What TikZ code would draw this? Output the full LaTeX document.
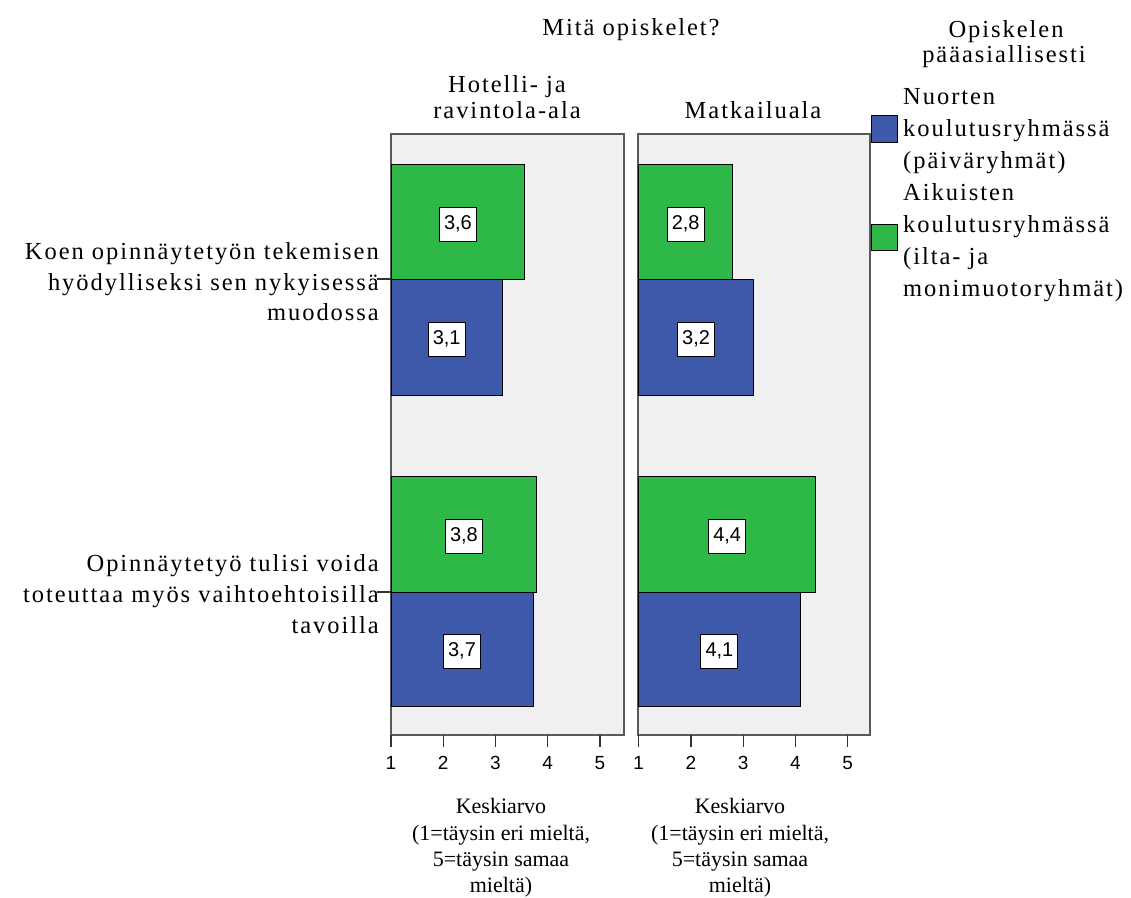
\documentclass[tikz,border=0pt]{standalone}
\usepackage{fontspec}
\setmainfont{Liberation Serif}
\newfontfamily\lblfont{Liberation Serif}[LetterSpace=8]
\newfontfamily\numfont{Liberation Sans}
\definecolor{bargreen}{RGB}{46,184,72}
\definecolor{barblue}{RGB}{62,88,170}
\definecolor{panelbg}{RGB}{240,240,240}
\begin{document}
\begin{tikzpicture}[x=1pt,y=-1pt,
  lbl/.style={font=\lblfont\fontsize{24.5}{24.5}\selectfont, inner sep=0pt},
  axt/.style={font=\fontsize{22}{22}\selectfont, inner sep=0pt, anchor=base},
  val/.style={draw=black, fill=white, line width=1pt, font=\numfont\fontsize{20}{20}\selectfont, minimum width=37pt, minimum height=34pt, inner sep=0pt},
  ticklbl/.style={font=\numfont\fontsize{19}{19}\selectfont, inner sep=0pt},
  panel/.style={draw=black!65, line width=1.6pt, fill=panelbg},
  gbar/.style={draw=black, line width=1pt, fill=bargreen},
  bbar/.style={draw=black, line width=1pt, fill=barblue},
  tickmark/.style={draw=black!80, line width=1.4pt}]
\useasboundingbox (0,0) rectangle (1131,897);
\fill[white] (0,0) rectangle (1131,897);

% panels
\draw[panel] (391,134) rectangle (624,735);
\draw[panel] (638,134) rectangle (870,735);

% bars panel 1
\draw[gbar] (391,164) rectangle (524.8,279);
\draw[bbar] (391,279) rectangle (502.3,395);
\draw[gbar] (391,476) rectangle (536.8,592);
\draw[bbar] (391,592) rectangle (533.1,706);
% bars panel 2
\draw[gbar] (638.7,164) rectangle (732.8,279);
\draw[bbar] (638.7,279) rectangle (753.6,395);
\draw[gbar] (638.7,476) rectangle (815.8,592);
\draw[bbar] (638.7,592) rectangle (800.2,706);

% value labels
\node[val] (v11g) at (457.9,224) {3,6};
\node[val] (v11b) at (446.7,339) {3,1};
\node[val] (v12g) at (463.9,536) {3,8};
\node[val] (v12b) at (462.0,651) {3,7};
\node[val] (v21g) at (685.7,224) {2,8};
\node[val] (v21b) at (696.1,339) {3,2};
\node[val] (v22g) at (727.2,536) {4,4};
\node[val] (v22b) at (719.4,651) {4,1};

% axis ticks
\foreach \xo/\p in {391/a,638.7/b}{
  \foreach \i in {0,...,4}{
    \draw[tickmark] (\xo+\i*52.25,735) -- (\xo+\i*52.25,747);
    \pgfmathtruncatemacro{\lab}{\i+1}
    \node[ticklbl] (t\p\i) at (\xo+\i*52.25,763) {\lab};
  }
}

% category ticks
\coordinate (c1a) at (377,279);
\coordinate (c1b) at (391,279);
\coordinate (c2a) at (377,592);
\coordinate (c2b) at (391,592);
\draw[tickmark] (c1a) -- (c1b);
\draw[tickmark] (c2a) -- (c2b);

% category labels
\node[lbl, anchor=base east] (k1a) at (379,259) {Koen opinnäytetyön tekemisen};
\node[lbl, anchor=base east] (k1b) at (379,290) {hyödylliseksi sen nykyisessä};
\node[lbl, anchor=base east] (k1c) at (379,320) {muodossa};
\node[lbl, anchor=base east] (k2a) at (379,571) {Opinnäytetyö tulisi voida};
\node[lbl, anchor=base east] (k2b) at (379,602) {toteuttaa myös vaihtoehtoisilla};
\node[lbl, anchor=base east] (k2c) at (379,633) {tavoilla};

% top titles
\node[lbl, anchor=base] (title) at (631,35) {Mitä opiskelet?};
\node[lbl, anchor=base] (h1a) at (507,92) {Hotelli- ja};
\node[lbl, anchor=base] (h1b) at (507,118) {ravintola-ala};
\node[lbl, anchor=base] (h2) at (753,118) {Matkailuala};

% legend
\node[lbl, anchor=base] (lt1) at (1006,37) {Opiskelen};
\node[lbl, anchor=base] (lt2) at (1004,62) {pääasiallisesti};
\draw[bbar] (871,115) rectangle (897,142);
\draw[gbar] (871,224) rectangle (897,250);
\node[lbl, anchor=base west] (l1a) at (903,104) {Nuorten};
\node[lbl, anchor=base west] (l1b) at (903,136) {koulutusryhmässä};
\node[lbl, anchor=base west] (l1c) at (903,168) {(päiväryhmät)};
\node[lbl, anchor=base west] (l2a) at (903,200) {Aikuisten};
\node[lbl, anchor=base west] (l2b) at (903,232) {koulutusryhmässä};
\node[lbl, anchor=base west] (l2c) at (903,264) {(ilta- ja};
\node[lbl, anchor=base west] (l2d) at (903,296) {monimuotoryhmät)};

% axis titles
\foreach \cx/\p in {501/a,740/b}{
  \node[axt] (x\p1) at (\cx,813) {Keskiarvo};
  \node[axt] (x\p2) at (\cx,840) {(1=täysin eri mieltä,};
  \node[axt] (x\p3) at (\cx,866) {5=täysin samaa};
  \node[axt] (x\p4) at (\cx,892) {mieltä)};
}
\end{tikzpicture}
\end{document}
